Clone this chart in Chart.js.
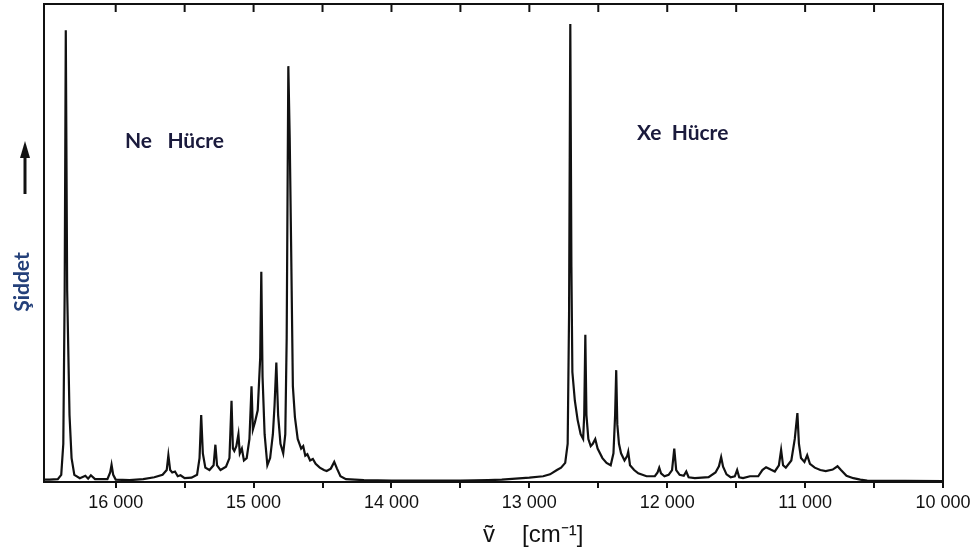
<!DOCTYPE html>
<html>
<head>
<meta charset="utf-8">
<script src="https://cdn.jsdelivr.net/npm/chart.js@4"></script>
<style>
  html, body { margin: 0; padding: 0; background: #fff; }
  #wrap { width: 979px; height: 552px; }
</style>
</head>
<body>
<div id="wrap"><canvas id="spectrum" width="979" height="552"></canvas></div>
<script>
// wavenumber (cm-1) and intensity
const wavenumbers = [
  16520, 16480, 16420, 16395, 16380, 16370, 16362, 16352, 16335, 16320, 16300, 16260, 16220, 16200, 16180, 16150,
  16060, 16040, 16030, 16018, 16000, 15900, 15800, 15720, 15660, 15630, 15618, 15605, 15590, 15570, 15550, 15530,
  15500, 15450, 15410, 15392, 15380, 15368, 15350, 15320, 15290, 15277, 15265, 15240, 15200, 15175, 15160, 15150,
  15140, 15125, 15110, 15100, 15085, 15070, 15050, 15030, 15015, 15005, 14990, 14970, 14952, 14944, 14935, 14920,
  14900, 14880, 14860, 14848, 14835, 14822, 14805, 14785, 14770, 14760, 14748, 14738, 14728, 14715, 14700, 14680,
  14655, 14640, 14625, 14610, 14590, 14570, 14550, 14520, 14490, 14470, 14440, 14415, 14395, 14370, 14330, 14200,
  14000, 13800, 13500, 13300, 13200, 13100, 13000, 12900, 12850, 12800, 12770, 12740, 12722, 12712, 12703, 12695,
  12688, 12670, 12650, 12628, 12610, 12602, 12594, 12586, 12572, 12555, 12540, 12522, 12505, 12470, 12440, 12410,
  12390, 12378, 12370, 12362, 12350, 12335, 12310, 12290, 12283, 12270, 12240, 12210, 12150, 12090, 12070, 12058,
  12045, 12020, 11990, 11965, 11949, 11935, 11910, 11880, 11862, 11845, 11800, 11700, 11650, 11625, 11609, 11595,
  11570, 11540, 11510, 11493, 11478, 11450, 11400, 11340, 11310, 11283, 11250, 11220, 11190, 11174, 11160, 11140,
  11100, 11075, 11056, 11045, 11030, 11005, 10985, 10965, 10930, 10890, 10850, 10800, 10765, 10740, 10700, 10650,
  10600, 10550, 10000
];
const intensity = [
  0.5, 0.5, 0.6, 1.5, 8, 40, 94.5, 40, 14, 5, 1.5, 0.8, 1.3, 0.7, 1.4, 0.6,
  0.6, 2, 3.6, 1.5, 0.5, 0.4, 0.6, 1, 1.5, 2.5, 5.6, 2.5, 2, 2.2, 1.2, 1.4,
  0.8, 0.9, 1.5, 5, 14, 6, 3, 2.5, 3.5, 7.8, 3.5, 2.5, 3.2, 5, 17, 7,
  6.5, 7.5, 10, 6, 7, 4.5, 5, 9, 20, 11, 12.5, 15, 26, 44, 22, 10,
  3.5, 5, 10, 16, 25, 14, 8, 6, 10, 30, 87, 72, 50, 20, 13.5, 9,
  7, 7.5, 5.5, 5.8, 4.5, 4.8, 3.8, 3, 2.5, 2.3, 2.8, 4.2, 2.8, 1.2, 0.6, 0.4,
  0.3, 0.3, 0.3, 0.4, 0.5, 0.7, 0.9, 1.2, 1.6, 2.5, 3, 4, 8, 35, 95.8, 45,
  23, 17, 13, 10, 9, 14, 30.8, 14, 9, 7.5, 8, 9, 7, 5, 4, 3.5,
  6, 14, 23.4, 12, 8, 6, 4.5, 5.5, 6.3, 3.5, 2.5, 1.8, 1.2, 1.2, 2, 3,
  1.8, 1.2, 1.5, 2.5, 7, 2.5, 1.5, 1.3, 2.2, 1, 0.8, 1, 2, 3.3, 5.2, 3.2,
  1.6, 1, 1.2, 2.5, 1, 0.8, 1.2, 1.2, 2.5, 3.1, 2.6, 2.2, 3.5, 6.7, 3.5, 3,
  4.5, 9, 14.4, 8, 5, 4.2, 5.6, 3.8, 3, 2.5, 2.3, 2.6, 3.3, 2.5, 1.3, 0.8,
  0.5, 0.3, 0.2
];
const tickValues = [16000, 15500, 15000, 14500, 14000, 13500, 13000, 12500, 12000, 11500, 11000, 10500, 10000];
const xMin = 10000;
const xMax = 16520;

const points = wavenumbers.map((w, i) => ({ x: w, y: intensity[i] }));

// frame with inward ticks on top, labels, arrow
const decor = {
  id: 'decor',
  afterDraw(chart) {
    const ctx = chart.ctx;
    const a = chart.chartArea;
    const xs = chart.scales.x;
    ctx.save();
    ctx.strokeStyle = '#111';
    ctx.lineWidth = 2;
    ctx.strokeRect(a.left, a.top, a.right - a.left, a.bottom - a.top);
    tickValues.forEach(v => {
      const px = xs.getPixelForValue(v);
      ctx.beginPath();
      ctx.moveTo(px, a.top);
      ctx.lineTo(px, a.top + 8);
      ctx.stroke();
    });

    ctx.fillStyle = '#1a1a3c';
    ctx.font = 'bold 21px Lato, "Open Sans", sans-serif';
    ctx.textBaseline = 'middle';
    ctx.textAlign = 'left';
    ctx.fillText('Ne   Hücre', 125, 141);
    ctx.fillText('Xe  Hücre', 637, 133);

    // y title
    ctx.save();
    ctx.translate(22, 282);
    ctx.rotate(-Math.PI / 2);
    ctx.textAlign = 'center';
    ctx.fillStyle = '#24407a';
    ctx.font = 'bold 21px Lato, "Open Sans", sans-serif';
    ctx.fillText('Şiddet', 0, 0);
    ctx.restore();

    // arrow
    ctx.fillStyle = '#111';
    ctx.lineWidth = 3;
    ctx.beginPath();
    ctx.moveTo(25, 194);
    ctx.lineTo(25, 152);
    ctx.stroke();
    ctx.beginPath();
    ctx.moveTo(25, 141);
    ctx.lineTo(20, 158);
    ctx.lineTo(30, 158);
    ctx.closePath();
    ctx.fill();

    // x title
    ctx.fillStyle = '#111';
    ctx.font = '24px "Liberation Sans", Arial, sans-serif';
    ctx.textAlign = 'left';
    ctx.textBaseline = 'alphabetic';
    ctx.fillText('ṽ', 483, 542);
    ctx.fillText('[cm⁻¹]', 522, 542);
    ctx.restore();
  }
};

new Chart(document.getElementById('spectrum'), {
  type: 'scatter',
  data: {
    datasets: [{
      data: points,
      showLine: true,
      borderColor: '#111',
      borderWidth: 2.2,
      pointRadius: 0,
      tension: 0
    }]
  },
  options: {
    responsive: false,
    animation: false,
    layout: { padding: { left: 44, right: 36, top: 4, bottom: 0 } },
    plugins: {
      legend: { display: false },
      tooltip: { enabled: false }
    },
    scales: {
      x: {
        type: 'linear',
        reverse: true,
        min: xMin,
        max: xMax,
        afterBuildTicks: scale => { scale.ticks = tickValues.map(v => ({ value: v })); },
        afterFit: scale => { scale.height = 70; },
        border: { color: '#111', width: 2 },
        grid: { drawOnChartArea: false, color: '#111', lineWidth: 2, tickLength: 6 },
        ticks: {
          color: '#111',
          padding: 4,
          maxRotation: 0,
          autoSkip: false,
          font: { family: '"Liberation Sans", Arial, sans-serif', size: 18 },
          callback: v => v % 1000 === 0 ? String(v).replace(/(\d+)(\d{3})$/, '$1 $2') : ''
        }
      },
      y: {
        display: false,
        min: 0,
        max: 100
      }
    }
  },
  plugins: [decor]
});
</script>
</body>
</html>
